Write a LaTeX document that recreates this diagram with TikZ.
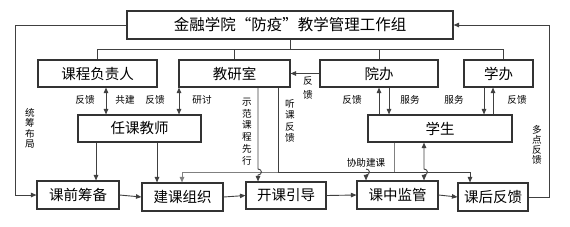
\documentclass[tikz,border=0pt]{standalone}
\usepackage{fontspec}
\setmainfont{Noto Sans CJK SC}
\usetikzlibrary{arrows.meta,calc}
\begin{document}
\begin{tikzpicture}[x=1pt,y=-1pt,
 bx/.style={draw=black!80,line width=1.1pt,inner sep=0pt,minimum height=27pt,font=\fontsize{14.5}{16}\selectfont},
 ln/.style={draw=black!75,line width=0.9pt},
 arr/.style={ln,-{Triangle[length=5.5pt,width=4.5pt]}},
 darr/.style={ln,{Triangle[length=5.5pt,width=4.5pt]}-{Triangle[length=5.5pt,width=4.5pt]}},
 lbl/.style={inner sep=0pt,font=\fontsize{9.6}{11}\selectfont,align=center},
]
\useasboundingbox (0,0) rectangle (570,226);
% boxes
\node[bx,minimum width=326pt,minimum height=28pt,font=\fontsize{15.5}{17}\selectfont] (top) at (290,25) {金融学院“防疫”教学管理工作组};
\node[bx,minimum width=119pt] (kc) at (97.5,73.5) {课程负责人};
\node[bx,minimum width=111pt] (jy) at (234.5,73.5) {教研室};
\node[bx,minimum width=118pt] (yb) at (379,73.5) {院办};
\node[bx,minimum width=69pt] (xb) at (498.5,73.5) {学办};
\node[bx,minimum width=123pt] (rk) at (139.5,128.5) {任课教师};
\node[bx,minimum width=144pt] (xs) at (440,128.5) {学生};
\node[bx,minimum width=82pt,minimum height=28pt] (kq) at (78,195) {课前筹备};
\node[bx,minimum width=81pt,minimum height=28pt] (jz) at (182.5,197) {建课组织};
\node[bx,minimum width=80pt,minimum height=27pt] (kk) at (286,195.5) {开课引导};
\node[bx,minimum width=81pt,minimum height=28pt] (kz) at (397.5,195) {课中监管};
\node[bx,minimum width=70pt,minimum height=28pt] (kh) at (493,197) {课后反馈};
% helper coordinates
\coordinate (bus) at (0,49);
\coordinate (lx) at (15,0);
\coordinate (rx) at (549,0);
\coordinate (hy) at (0,172);
\coordinate (xbt) at ([xshift=4.5pt]xb.north);
\foreach \c in {96,106,157,179,182,258,278,366,379,389,394,424,470,484,493}{\coordinate (c\c) at (\c,0);}
% organisation bus
\draw[ln] (top.south) -- (top.south |- bus);
\draw[ln] (kc.north) -- (kc.north |- bus) -- (xbt |- bus) -- (xbt);
\draw[ln] (jy.north) -- (jy.north |- bus);
\draw[ln] (yb.north) -- (yb.north |- bus);
% outer loops
\draw[arr] (top.west) -- (top.west -| lx) -- (lx |- kq.west) -- (kq.west);
\draw[arr] (kh.east) -- (kh.east -| rx) -- (rx |- top.east) -- (top.east);
\draw[arr] (yb.west) -- (jy.east);
% teacher links
\draw[darr] (kc.south -| c106) -- (rk.north -| c106);
\draw[darr] (jy.south -| c179) -- (rk.north -| c179);
\draw[arr] (rk.south -| c96) -- (kq.north -| c96);
\draw[arr] (rk.south -| c157) -- (jz.north -| c157);
% process chain
\draw[arr] (kq.east) -- (jz.west);
\draw[arr] (jz.east) -- (kk.west);
\draw[arr] (kk.east) -- (kz.west);
\draw[arr] (kz.east) -- (kh.west);
% offices - students
\draw[arr] (xs.north -| c379) -- (yb.south -| c379);
\draw[arr] (yb.south -| c389) -- (xs.north -| c389);
\draw[arr] (xb.south -| c484) -- (xs.north -| c484);
\draw[arr] (xs.north -| c493) -- (xb.south -| c493);
% 协助建课
\draw[arr,draw=black!50] (xs.south -| c394) -- (c394 |- hy) -- (c182 |- hy) -- (jz.north -| c182);
% 听课反馈
\draw[arr] (jy.south -| c278) -- (c278 |- hy) -- (c470 |- hy) -- (kh.north -| c470);
\draw[arr] ($(c366 |- hy)+(0,-3)$) .. controls +(4.5,0) and +(4.5,0) .. ($(c366 |- hy)+(0,3)$) -- (kz.north -| c366);
% 示范课程先行
\draw[arr] (jy.south -| c258) -- ($(c258 |- hy)+(0,-3)$) .. controls +(4.5,0) and +(4.5,0) .. ($(c258 |- hy)+(0,3)$) -- (kk.north -| c258);
% students - supervision
\draw[darr] (xs.south -| c424) -- ($(c424 |- hy)+(0,-3)$) .. controls +(4.5,0) and +(4.5,0) .. ($(c424 |- hy)+(0,3)$) -- (kz.north -| c424);
% labels
\node[lbl] (t1) at (85,100) {反馈};
\node[lbl] (t2) at (125,100) {共建};
\node[lbl] (t3) at (155,100) {反馈};
\node[lbl] (t4) at (202,100) {研讨};
\node[lbl] (t5) at (352,100) {反馈};
\node[lbl] (t6) at (410,100) {服务};
\node[lbl] (t7) at (454,100) {服务};
\node[lbl] (t8) at (517,100) {反馈};
\node[lbl] (t9) at (366,163) {协助建课};
\node[lbl,font=\fontsize{9.6}{14}\selectfont] (v1) at (308,88) {反\\馈};
\node[lbl,font=\fontsize{9.6}{10.4}\selectfont] (v2) at (30,128.5) {统\\筹\\布\\局};
\node[lbl,font=\fontsize{9.6}{11.8}\selectfont] (v3) at (247,131.5) {示\\范\\课\\程\\先\\行};
\node[lbl,font=\fontsize{9.6}{11.3}\selectfont] (v4) at (290,121) {听\\课\\反\\馈};
\node[lbl,font=\fontsize{9.6}{10}\selectfont] (v5) at (537,145) {多\\点\\反\\馈};
\end{tikzpicture}
\end{document}
